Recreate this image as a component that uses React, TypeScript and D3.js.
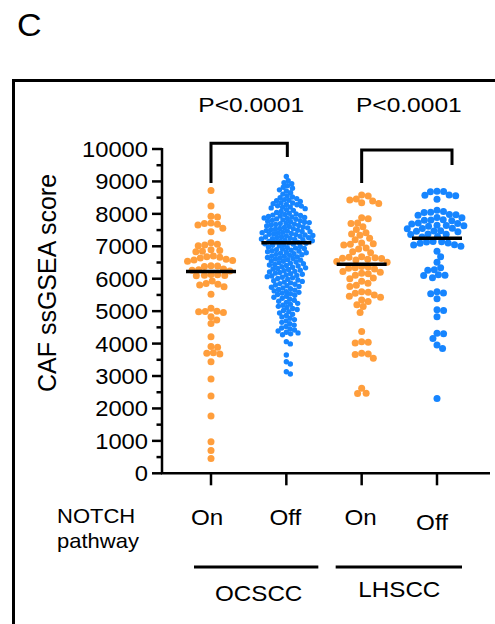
import React, { useEffect, useRef } from 'react';
import * as d3 from 'd3';

// groups along the x axis
const notchState = ['On', 'Off', 'On', 'Off'];
const cohorts = ['OCSCC', 'LHSCC'];
const pLabels = ['P<0.0001', 'P<0.0001'];
const yTicks = [0, 1000, 2000, 3000, 4000, 5000, 6000, 7000, 8000, 9000, 10000];

// medians shown as black bars
const medians = [6220, 7110, 6450, 7250];

// CAF ssGSEA scores
const ocsccOn = [
  8720, 8240, 7930, 7900, 7720, 7700, 7680, 7660, 7560, 7450, 7110, 7060, 7040, 7020,
  6890, 6870, 6850, 6830, 6700, 6680, 6660, 6640, 6600, 6580, 6560, 6540, 6400, 6390,
  6380, 6300, 6280, 6260, 6240, 6130, 6120, 6110, 6100, 6090, 5930, 5850, 5830, 5810,
  5750, 5520, 5090, 5000, 4990, 4980, 4960, 4830, 4730, 4620, 4210, 3910, 3890, 3720,
  3700, 3680, 3440, 2910, 2380, 1770, 970, 700, 460,
];

const ocsccOff = [
  9150, 9020,
  8960, 8930, 8870, 8820, 8790, 8740, 8705, 8650, 8610, 8555, 8520,
  8497, 8471, 8440, 8418, 8405, 8381, 8345, 8333, 8312, 8288, 8279, 8251, 8240,
  8213, 8207, 8184, 8160, 8131, 8108, 8072, 8043, 8019,
  7995, 7980, 7962, 7951, 7933, 7920, 7904, 7890, 7872, 7860, 7845, 7833, 7816, 7800, 7788,
  7770, 7757, 7741, 7730, 7712, 7700, 7684, 7671, 7655, 7640, 7626, 7611, 7598, 7580, 7569,
  7552, 7540, 7524, 7510,
  7496, 7484, 7470, 7458, 7447, 7433, 7420, 7411, 7398, 7385, 7372, 7360, 7349, 7335, 7322,
  7310, 7298, 7285, 7274, 7262, 7250, 7237, 7224, 7212, 7200, 7186, 7173, 7160, 7148, 7135,
  7121, 7108, 7095, 7080, 7066, 7050, 7033, 7012,
  6992, 6975, 6960, 6944, 6930, 6912, 6898, 6880, 6866, 6850, 6833, 6818, 6801, 6785, 6770,
  6752, 6738, 6720, 6705, 6690, 6672, 6655, 6640, 6622, 6606, 6590, 6572, 6555, 6538, 6516,
  6495, 6476, 6460, 6441, 6425, 6406, 6390, 6371, 6352, 6335, 6318, 6300, 6282, 6264, 6246,
  6228, 6210, 6190, 6172, 6155, 6137, 6118, 6100, 6082, 6064, 6045, 6027, 6008,
  5985, 5962, 5940, 5918, 5896, 5873, 5850, 5828, 5806, 5783, 5760, 5738, 5715, 5692, 5670,
  5648, 5625, 5602, 5580, 5557, 5535, 5512,
  5490, 5460, 5428, 5397, 5366, 5335, 5305, 5272, 5240, 5210, 5180, 5148, 5115, 5085, 5052, 5020,
  4985, 4945, 4905, 4865, 4822, 4780, 4740, 4700, 4655, 4610, 4570, 4525,
  4480, 4450, 4420, 4390, 4350, 4330, 4300, 4270, 4060, 3990, 3650, 3440, 3370, 3130, 3060,
];

const lhsccOn = [
  8580, 8550, 8460, 8430, 8400, 8340, 8320, 7880, 7850, 7720, 7700, 7600, 7520, 7420,
  7380, 7340, 7250, 7200, 7100, 7080, 7060, 7040, 6950, 6920, 6830, 6800, 6680, 6660,
  6650, 6630, 6620, 6600, 6580, 6530, 6510, 6380, 6360, 6340, 6320, 6300, 6220, 6200,
  6170, 6150, 6110, 6020, 6000, 5920, 5860, 5800, 5760, 5600, 5580, 5550, 5500, 5460,
  5430, 5340, 5300, 5200, 5140, 4960, 4370, 4060, 4040, 4020, 3700, 3680, 3660, 3550,
  2620, 2470, 2460,
];

const lhsccOff = [
  8700, 8690, 8680, 8580, 8570, 8560, 8450, 8110, 8070, 8050, 8040, 7980, 7970, 7960,
  7890, 7880, 7820, 7810, 7800, 7790, 7720, 7700, 7690, 7650, 7640, 7630, 7620, 7560,
  7550, 7540, 7480, 7470, 7460, 7450, 7380, 7370, 7360, 7300, 7290, 7150, 7140, 7130,
  7100, 7090, 7050, 7040, 7000, 6850, 6680, 6510, 6340, 6280, 6260, 6120, 6110, 6100,
  6030, 5600, 5560, 5540, 5380, 5040, 5020, 4830, 4320, 4300, 4160, 3960, 3850, 2310,
];

const series = [ocsccOn, ocsccOff, lhsccOn, lhsccOff];
const colors = ['#FF9E3C', '#1685FF', '#FF9E3C', '#1685FF'];

const FONT = '"Liberation Sans", Arial, sans-serif';
const SX = 1.1; // the figure is slightly stretched horizontally

// simple beeswarm: closest-to-centre non-overlapping slot
function swarm(values, yScale, D) {
  const pts = values.map(v => ({ v, y: yScale(v), x: 0 })).sort((a, b) => a.y - b.y);
  const placed = [];
  for (const p of pts) {
    const near = placed.filter(q => Math.abs(q.y - p.y) < D);
    const cands = [0];
    near.forEach(q => {
      const dx = Math.sqrt(D * D - (q.y - p.y) ** 2);
      cands.push(q.x + dx, q.x - dx);
    });
    cands.sort((a, b) => Math.abs(a) - Math.abs(b));
    for (const c of cands) {
      if (near.every(q => (q.x - c) ** 2 + (q.y - p.y) ** 2 >= D * D - 0.01)) { p.x = c; break; }
    }
    placed.push(p);
  }
  return placed;
}

const CafChart = () => {
  const svgRef = useRef();

  useEffect(() => {
    const svg = d3.select(svgRef.current);
    svg.selectAll('*').remove();

    const yScale = d3.scaleLinear().domain([0, 10000]).range([473.3, 149]);
    const xScale = d3.scalePoint().domain(d3.range(4)).range([211, 437]);
    const axisX = 162;
    const axisY = yScale(0);

    const txt = (s, x, y, size, anchor = 'start', sx = SX) =>
      svg.append('text').text(s)
        .attr('transform', `translate(${x},${y}) scale(${sx},1)`)
        .attr('text-anchor', anchor)
        .attr('font-family', FONT).attr('font-size', size).attr('fill', '#000');

    // panel frame
    svg.append('path').attr('d', 'M13.5,624 V80.5 H495')
      .attr('fill', 'none').attr('stroke', '#000').attr('stroke-width', 3);
    txt('C', 17, 36, 31);

    // dots
    series.forEach((vals, i) => {
      const big = vals.length > 150;
      const r = big ? 2.7 : 3.5;
      const pts = swarm(vals, yScale, big ? 4.6 : 6.6);
      svg.append('g').selectAll('circle').data(pts).join('circle')
        .attr('cx', d => xScale(i) + d.x)
        .attr('cy', d => d.y)
        .attr('r', r)
        .attr('fill', colors[i]);
    });

    // medians
    medians.forEach((m, i) => {
      svg.append('line')
        .attr('x1', xScale(i) - 25).attr('x2', xScale(i) + 25)
        .attr('y1', yScale(m)).attr('y2', yScale(m))
        .attr('stroke', '#000').attr('stroke-width', 3.5);
    });

    // y axis
    const ax = svg.append('g').attr('stroke', '#000').attr('stroke-width', 2.5);
    ax.append('line').attr('x1', axisX).attr('x2', axisX).attr('y1', yScale(10000) - 1).attr('y2', axisY);
    yScale.ticks(20).forEach(t => {
      const major = t % 1000 === 0;
      ax.append('line').attr('x1', axisX - (major ? 10 : 5.5)).attr('x2', axisX)
        .attr('y1', yScale(t)).attr('y2', yScale(t));
    });
    yTicks.forEach(t => txt(String(t), 148, yScale(t) + 8, 22, 'end', 1.08));

    svg.append('text').text('CAF ssGSEA score')
      .attr('transform', `translate(56,283) rotate(-90)`)
      .attr('text-anchor', 'middle')
      .attr('font-family', FONT).attr('font-size', 25);

    // x axis
    ax.append('line').attr('x1', axisX - 1).attr('x2', 490).attr('y1', axisY).attr('y2', axisY);
    notchState.forEach((_, i) => {
      ax.append('line').attr('x1', xScale(i)).attr('x2', xScale(i))
        .attr('y1', axisY).attr('y2', axisY + 12);
    });

    const labelY = [525, 525, 525, 530];
    const labelDx = [-4, -1, -1, -5];
    notchState.forEach((s, i) => txt(s, xScale(i) + labelDx[i], labelY[i], 22, 'middle'));
    txt('NOTCH', 57, 523, 20, 'start');
    txt('pathway', 57, 548, 20, 'start');

    // cohort underlines
    cohorts.forEach((c, k) => {
      const a = xScale(k * 2), b = xScale(k * 2 + 1);
      const x0 = k === 0 ? a - 17 : a - 26;
      const x1 = k === 0 ? b + 32 : b + 25;
      svg.append('line').attr('x1', x0).attr('x2', x1).attr('y1', 567).attr('y2', 567)
        .attr('stroke', '#000').attr('stroke-width', 3);
      txt(c, (a + b) / 2 + (k === 0 ? 10 : 0), k === 0 ? 601 : 597, 22, 'middle');
    });

    // significance brackets
    const brackets = [
      { a: 0, b: 1, top: 10175, ya: 8950, yb: 9755, db: 1 },
      { a: 2, b: 3, top: 9970, ya: 8950, yb: 9510, db: 15 },
    ];
    brackets.forEach((br, k) => {
      const xa = xScale(br.a), xb = xScale(br.b) + br.db;
      svg.append('path')
        .attr('d', `M${xa},${yScale(br.ya)} V${yScale(br.top)} H${xb} V${yScale(br.yb)}`)
        .attr('fill', 'none').attr('stroke', '#000').attr('stroke-width', 3);
      txt(pLabels[k], (xa + xb) / 2 + 2, 112, 21, 'middle', 1.17);
    });
  }, []);

  return (
    <svg ref={svgRef} width={495} height={624}
      style={{ position: 'absolute', left: 0, top: 0, background: '#fff' }} />
  );
};

export default function App() {
  return <CafChart />;
}
